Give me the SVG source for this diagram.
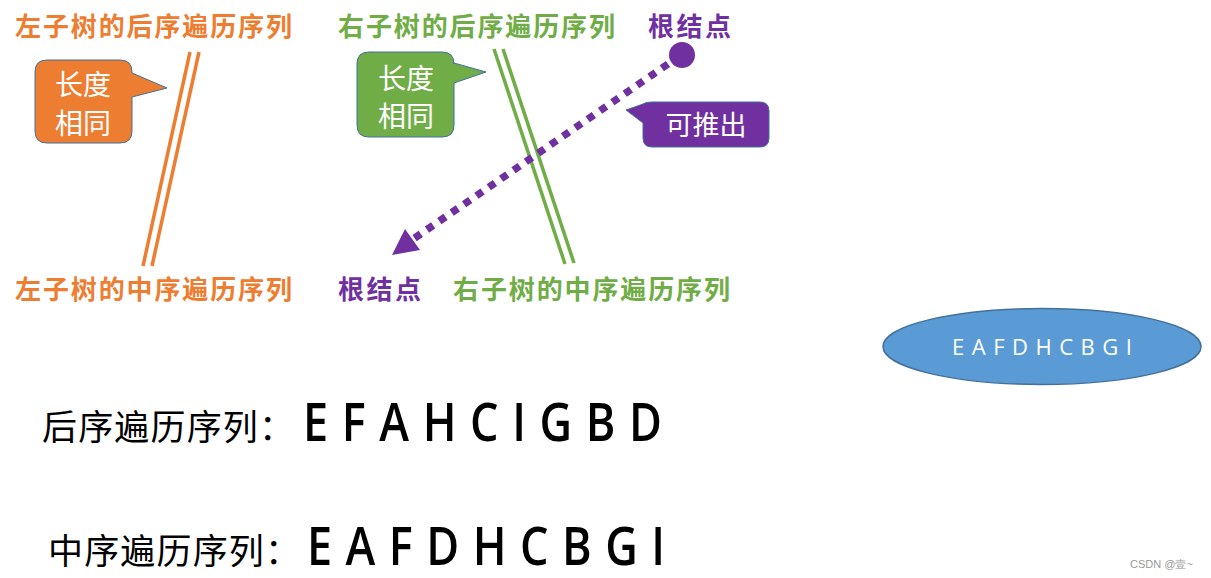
<svg xmlns="http://www.w3.org/2000/svg" width="1211" height="578" viewBox="0 0 1211 578">
<defs>
<style>
.lbl{font-family:"Noto Sans CJK SC",sans-serif;font-weight:bold;font-size:26px}
.or{fill:#ED7D31}.gr{fill:#70AD47}.pu{fill:#7030A0}
.cw{font-family:"Noto Sans CJK SC",sans-serif;font-size:28px;fill:#FFFFFF;text-anchor:middle}
.big{font-family:"Noto Sans CJK SC",sans-serif;font-size:35px;fill:#000}
.seq{font-family:"Open Sans",sans-serif;font-size:45px;font-weight:600;fill:#000}
</style>
</defs>
<rect width="1211" height="578" fill="#FFFFFF"/>
<g id="connectors">
<g stroke="#ED7D31" stroke-width="3.5">
<line x1="190" y1="52" x2="143" y2="266"/>
<line x1="199" y1="52" x2="152" y2="266"/>
</g>
<g stroke="#70AD47" stroke-width="3.5">
<line x1="494" y1="49" x2="565" y2="264"/>
<line x1="503" y1="49" x2="574" y2="263"/>
</g>
<line x1="668" y1="64" x2="412" y2="240" stroke="#7030A0" stroke-width="7.5" stroke-dasharray="7.5 7.5" fill="none"/>
<path d="M392,255 L405,229 L420,250 Z" fill="#7030A0"/>
</g>
<g id="label-left-post"><text class="lbl or" x="15" y="36" textLength="277">左子树的后序遍历序列</text></g>
<g id="label-right-post"><text class="lbl gr" x="338" y="36" textLength="277">右子树的后序遍历序列</text></g>
<g id="label-root-top"><text class="lbl pu" x="648" y="36" textLength="83">根结点</text></g>
<g id="label-left-in"><text class="lbl or" x="15" y="299" textLength="277">左子树的中序遍历序列</text></g>
<g id="label-root-bottom"><text class="lbl pu" x="338" y="299" textLength="83">根结点</text></g>
<g id="label-right-in"><text class="lbl gr" x="453" y="299" textLength="277">右子树的中序遍历序列</text></g>
<g id="root-dot"><circle cx="682" cy="55" r="13" fill="#7030A0"/></g>
<g id="callout-left">
<path d="M47,60 H120 Q132,60 132,72 V73 L167,88 L132,97 V131 Q132,143 120,143 H47 Q35,143 35,131 V72 Q35,60 47,60 Z" fill="#ED7D31" stroke="#41719C" stroke-width="1"/>
<text class="cw" x="83" y="95">长度</text>
<text class="cw" x="83" y="134">相同</text>
</g>
<g id="callout-right">
<path d="M369,52 H442 Q454,52 454,64 V63 L486,72 L454,83 V125 Q454,137 442,137 H369 Q357,137 357,125 V64 Q357,52 369,52 Z" fill="#70AD47" stroke="#41719C" stroke-width="1"/>
<text class="cw" x="406" y="89">长度</text>
<text class="cw" x="406" y="127">相同</text>
</g>
<g id="callout-derive">
<path d="M652,102 H760 Q769,102 769,111 V138 Q769,147 760,147 H652 Q643,147 643,138 V123 L626,110 L643,104 Q645,102 652,102 Z" fill="#7030A0" stroke="#41719C" stroke-width="1"/>
<text class="cw" x="706" y="135" style="font-size:27px">可推出</text>
</g>
<g id="ellipse-node">
<ellipse cx="1042" cy="346.5" rx="159" ry="38" fill="#5B9BD5" stroke="#41719C" stroke-width="1.5"/>
<text x="952" y="355" textLength="180" style="font-family:'Open Sans',sans-serif;font-size:22px;fill:#FFFFFF">E A F D H C B G I</text>
</g>
<g id="postorder">
<text class="big" x="42" y="440" textLength="252">后序遍历序列：</text>
<text class="seq" transform="translate(303,441) scale(1,1.15)" x="0" y="0" textLength="359">E F A H C I G B D</text>
</g>
<g id="inorder">
<text class="big" x="48" y="564" textLength="252">中序遍历序列：</text>
<text class="seq" transform="translate(307,565) scale(1,1.15)" x="0" y="0" textLength="358">E A F D H C B G I</text>
</g>
<text x="1130" y="568" style="font-family:'Liberation Sans',sans-serif;font-size:11px;fill:#999999">CSDN @壹~</text>
</svg>
